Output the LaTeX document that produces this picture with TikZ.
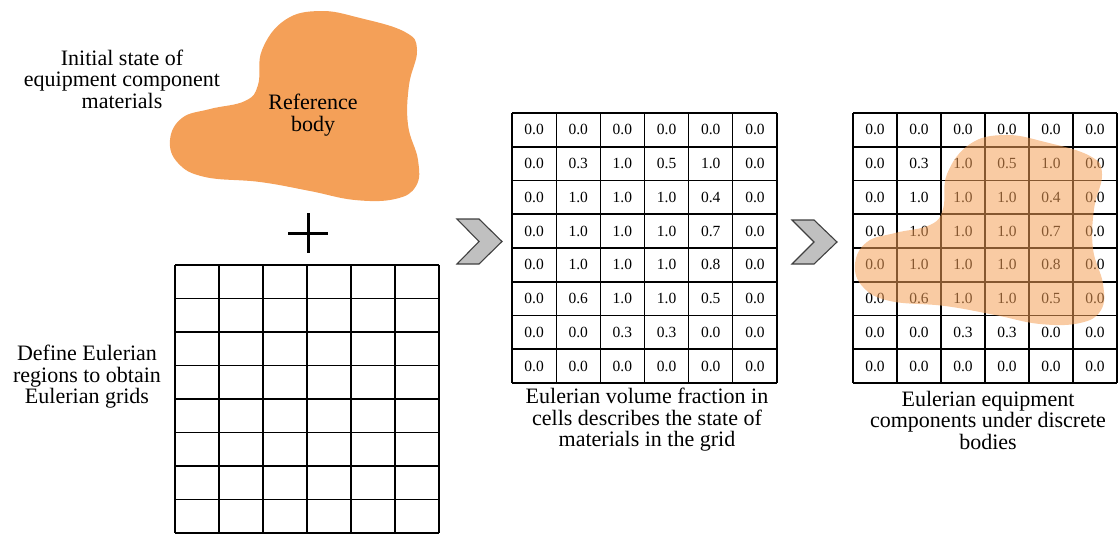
\documentclass[tikz,border=0pt]{standalone}
\usepackage{fontspec}
\setmainfont{Liberation Serif}
\usepackage{tikz}
\usetikzlibrary{calc}
\usepackage{xcolor}
\definecolor{bodyorange}{RGB}{244,160,88}
\definecolor{chevgray}{RGB}{192,192,192}

\tikzset{
  refbody/.pic={
    \path[pic actions] plot[smooth cycle,tension=0.7] coordinates {
      (262,50) (285,20) (320,11) (360,18) (405,32) (417,50) (409,85)
      (408,125) (418,160) (416,186) (395,199) (355,200) (310,191)
      (260,182) (205,177) (178,163) (170,140) (182,118) (210,109)
      (245,101) (258,85)};
  }
}

\begin{document}
\begin{tikzpicture}[x=1pt,y=-1pt,
    gridthin/.style={line width=1.2pt,black},
    gridthick/.style={line width=2.4pt,black},
    cellnum/.style={font=\rmfamily\fontsize{15.5}{15.5}\selectfont,inner sep=0pt},
    labeltxt/.style={align=center,font=\rmfamily\fontsize{22}{21.5}\selectfont,inner sep=0pt},
    chevron/.style={fill=chevgray,draw=black!75,line width=1.1pt,line join=miter}]
  \useasboundingbox (0,0) rectangle (1118,533);

  % reference body
  \pic[fill=bodyorange] (body) at (0,0) {refbody};
  \node[labeltxt] (bodytxt) at (313,115) {Reference\\body};
  \node[labeltxt] (inittxt) at (122,79) {Initial state of\\equipment component\\materials};

  % plus
  \draw[line width=3pt] (288,233) -- (328,233);
  \draw[line width=3pt] (308,213) -- (308,253);

  % empty Eulerian grid
  \foreach \i in {0,...,6}
    \draw[gridthin] ({175+44*\i},265) -- ({175+44*\i},533);
  \foreach \j in {0,1,3,5,7,8}
    \draw[gridthin] (175,{265+33.5*\j}) -- (439,{265+33.5*\j});
  \foreach \j in {2,4,6}
    \draw[gridthick] (175,{265+33.5*\j}) -- (439,{265+33.5*\j});
  \node[labeltxt] (gridtxt) at (87,377) {Define Eulerian\\regions to obtain\\Eulerian grids};

  % chevrons
  \draw[chevron] (457,219) -- (479,219) -- (502,241.5) -- (479,264) -- (457,264) -- (479,241.5) -- cycle;
  \draw[chevron] (792,220) -- (814,220) -- (837,242) -- (814,264) -- (792,264) -- (814,242) -- cycle;

  % volume fraction grids
  \foreach \x/\w in {512/44.17,853/44} {
    \foreach \i in {0,...,6}
      \draw[gridthin] ({\x+\w*\i},113) -- ({\x+\w*\i},383);
    \foreach \j in {0,2,4,6,8}
      \draw[gridthin] (\x,{113+33.75*\j}) -- ({\x+6*\w},{113+33.75*\j});
    \foreach \j in {1,3,5,7}
      \draw[gridthick] (\x,{113+33.75*\j}) -- ({\x+6*\w},{113+33.75*\j});
  }
  \foreach \vals [count=\r] in {
      {0.0,0.0,0.0,0.0,0.0,0.0},
      {0.0,0.3,1.0,0.5,1.0,0.0},
      {0.0,1.0,1.0,1.0,0.4,0.0},
      {0.0,1.0,1.0,1.0,0.7,0.0},
      {0.0,1.0,1.0,1.0,0.8,0.0},
      {0.0,0.6,1.0,1.0,0.5,0.0},
      {0.0,0.0,0.3,0.3,0.0,0.0},
      {0.0,0.0,0.0,0.0,0.0,0.0}} {
    \foreach \v [count=\c] in \vals {
      \node[cellnum] (va-\r-\c) at ({512+44.17*(\c-0.5)},{113+33.75*(\r-0.5)}) {\v};
      \node[cellnum] (vb-\r-\c) at ({853+44*(\c-0.5)},{113+33.75*(\r-0.5)}) {\v};
    }
  }
  \node[labeltxt] (fractxt) at (647,420) {Eulerian volume fraction in\\cells describes the state of\\materials in the grid};
  \node[labeltxt] (comptxt) at (988,420) {Eulerian equipment\\components under discrete\\bodies};

  % discrete body over the grid
  \pic[fill=bodyorange,fill opacity=0.55] (bodyb) at (685,124) {refbody};
\end{tikzpicture}
\end{document}
